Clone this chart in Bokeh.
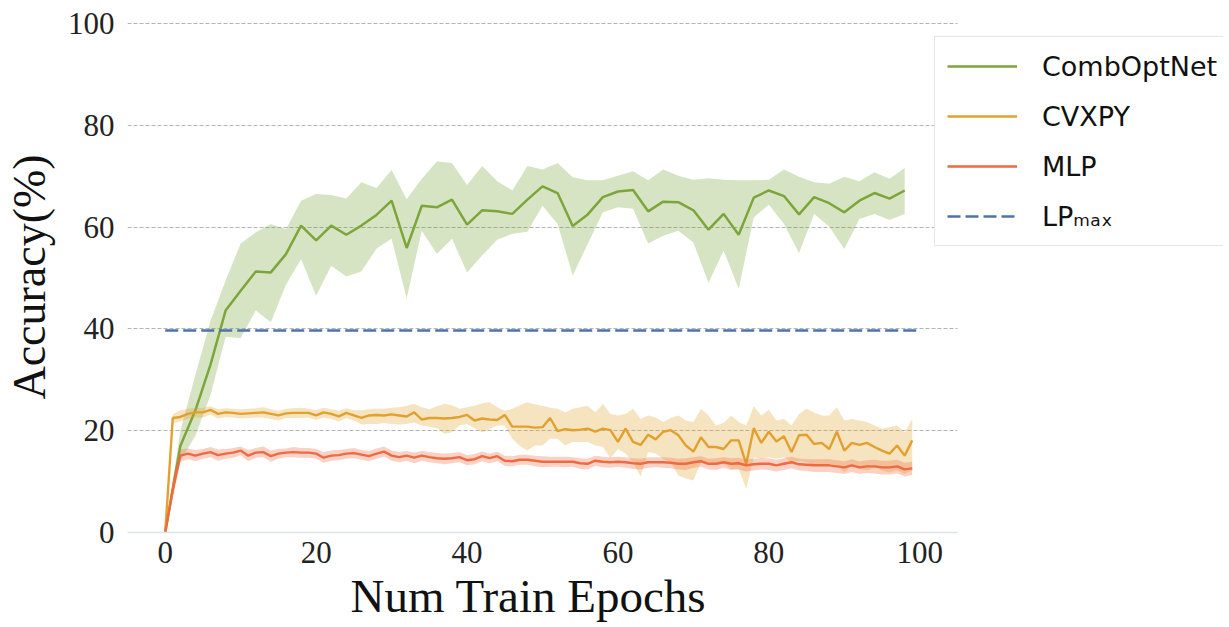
from bokeh.plotting import figure
from bokeh.models import FixedTicker, Legend, LegendItem, ColumnDataSource, Title
from bokeh.embed import file_html
from bokeh.resources import INLINE

# ---------------- data ----------------
comb_epochs = list(range(0, 100, 2))
comb_mean = [0, 17, 24, 33, 43.6, 47.5, 51.3, 51.1, 54.7, 60.3,
             57.4, 60.3, 58.5, 60.3, 62.4, 65.2, 55.9, 64.2, 63.9, 65.4,
             60.5, 63.3, 63.1, 62.6, 65.4, 68.0, 66.7, 60.2, 62.5, 65.9,
             67.0, 67.3, 63.1, 65.0, 64.9, 63.3, 59.5, 62.6, 58.5, 65.8,
             67.2, 66.1, 62.5, 65.9, 64.7, 62.9, 65.2, 66.7, 65.6, 67.2]
comb_upper = [0, 20, 31, 41.6, 49.5, 56.8, 59.0, 60.6, 59.6, 65.2,
              66.5, 66.3, 65.6, 68.8, 67.7, 71.2, 65.5, 69.5, 72.9, 72.6,
              68.3, 72.0, 69.0, 67.2, 72.0, 71.3, 72.6, 69.8, 69.2, 69.2,
              70.1, 71.0, 69.2, 71.3, 70.1, 69.3, 69.6, 69.3, 69.2, 69.2,
              69.3, 71.3, 69.9, 68.8, 68.5, 69.9, 69.0, 70.8, 69.5, 71.6]
comb_lower = [0, 14, 19, 27, 38.4, 38.2, 43.6, 41.3, 48.7, 53.7,
              46.5, 52.4, 50.3, 51.3, 55.8, 57.7, 46.0, 59.3, 54.7, 57.7,
              51.1, 54.4, 57.5, 58.7, 59.1, 64.2, 60.6, 50.5, 56.7, 62.9,
              63.9, 63.6, 56.8, 58.3, 59.3, 57.0, 49.0, 55.4, 47.9, 61.9,
              64.4, 60.6, 54.9, 62.6, 60.1, 55.7, 61.6, 62.6, 61.4, 62.6]

epochs = list(range(100))
cvx_mean = [0, 22.5, 22.7, 23.3, 23.6, 23.6, 24.1, 23.3, 23.6, 23.5,
            23.3, 23.4, 23.5, 23.6, 23.3, 23.0, 23.4, 23.5, 23.5, 23.5,
            23.0, 23.6, 23.3, 22.8, 23.5, 23.0, 22.5, 23.0, 23.1, 23.0,
            23.2, 23.0, 22.8, 23.6, 22.2, 22.5, 22.5, 22.4, 22.5, 22.7,
            23.1, 22.0, 22.4, 22.2, 22.1, 23.1, 20.8, 20.8, 20.8, 20.6,
            20.7, 22.5, 19.9, 20.3, 20.1, 20.2, 20.4, 19.8, 20.4, 20.1,
            17.8, 20.4, 17.8, 17.2, 19.2, 18.3, 19.8, 20.1, 19.1, 17.1,
            15.9, 18.7, 16.8, 16.8, 16.4, 18.1, 18.1, 13.5, 20.5, 17.6,
            19.8, 17.9, 18.9, 15.8, 19.1, 19.2, 17.4, 17.6, 16.4, 19.8,
            16.1, 17.6, 17.2, 17.6, 16.8, 16.1, 15.5, 17.1, 15.1, 18.1]
cvx_upper = [0, 23.2, 24.0, 24.3, 24.5, 24.5, 24.8, 24.2, 24.4, 24.3,
             24.2, 24.3, 24.4, 24.6, 24.2, 23.9, 24.3, 24.4, 24.5, 24.3,
             24.0, 24.5, 24.2, 23.9, 24.4, 24.0, 24.0, 24.2, 24.3, 24.3,
             24.5, 24.6, 24.9, 25.3, 24.6, 24.2, 24.8, 25.3, 25.0, 24.3,
             24.6, 24.9, 25.4, 25.6, 24.6, 23.9, 24.3, 25.0, 25.6, 25.2,
             24.9, 24.5, 24.3, 23.6, 24.3, 24.6, 24.9, 23.6, 25.3, 23.3,
             23.0, 23.3, 24.3, 22.3, 23.0, 22.6, 21.7, 22.5, 23.0, 22.0,
             21.7, 24.3, 23.0, 21.0, 21.5, 23.0, 21.7, 21.0, 24.8, 23.0,
             24.1, 22.0, 22.3, 21.0, 23.3, 24.3, 23.6, 23.0, 23.0, 24.6,
             22.0, 22.3, 22.0, 21.7, 21.0, 20.4, 20.7, 21.0, 19.7, 22.3]
cvx_lower = [0, 21.5, 21.8, 22.3, 22.6, 22.6, 23.2, 22.4, 22.7, 22.6,
             22.4, 22.5, 22.6, 22.6, 22.3, 22.0, 22.5, 22.5, 22.5, 22.6,
             22.1, 22.6, 22.3, 21.8, 22.5, 22.0, 21.2, 21.3, 21.3, 21.5,
             21.3, 21.2, 21.3, 21.6, 21.0, 20.8, 20.5, 19.4, 19.7, 21.0,
             21.3, 20.5, 19.7, 20.3, 21.0, 21.0, 18.4, 17.0, 16.1, 17.1,
             17.1, 18.4, 18.4, 17.1, 17.8, 17.8, 17.8, 17.1, 16.8, 14.6,
             16.4, 15.5, 13.8, 11.0, 15.8, 15.5, 14.5, 13.8, 11.2, 10.6,
             10.2, 13.8, 13.5, 13.2, 13.5, 12.5, 12.5, 8.6, 14.8, 14.5,
             14.8, 14.5, 14.8, 13.8, 14.1, 13.8, 13.2, 13.2, 13.5, 13.2,
             11.8, 13.2, 12.5, 12.2, 12.8, 12.2, 11.8, 12.2, 11.5, 12.2]

mlp_mean = [0, 8.5, 15.1, 15.5, 15.1, 15.5, 15.8, 15.2, 15.5, 15.7,
            16.1, 15.1, 15.7, 15.8, 15.0, 15.5, 15.7, 15.8, 15.7, 15.7,
            15.5, 14.7, 15.1, 15.2, 15.5, 15.6, 15.3, 15.0, 15.5, 15.9,
            15.1, 14.8, 15.1, 14.7, 15.1, 14.8, 14.6, 14.5, 14.6, 14.8,
            14.2, 14.4, 15.0, 14.6, 15.0, 14.1, 14.0, 14.3, 14.3, 14.1,
            13.9, 13.9, 13.9, 13.9, 13.9, 13.6, 13.5, 14.1, 13.9, 13.8,
            13.9, 13.8, 13.6, 13.5, 13.8, 13.8, 13.8, 13.7, 13.5, 13.5,
            13.8, 14.0, 13.5, 13.5, 13.8, 13.5, 13.6, 13.2, 13.4, 13.5,
            13.5, 13.2, 13.5, 13.8, 13.4, 13.3, 13.2, 13.2, 13.2, 13.0,
            12.8, 13.2, 12.8, 13.0, 13.0, 12.8, 12.8, 13.0, 12.4, 12.6]
mlp_upper = [0, 10.5, 16.3, 16.5, 16.2, 16.4, 16.8, 16.3, 16.4, 16.6,
             16.9, 16.2, 16.6, 16.9, 16.1, 16.4, 16.5, 16.8, 16.6, 16.6,
             16.4, 15.8, 16.1, 16.2, 16.4, 16.6, 16.2, 16.0, 16.5, 16.9,
             16.1, 15.8, 16.0, 15.7, 16.0, 15.8, 15.6, 15.5, 15.6, 15.8,
             15.2, 15.4, 15.9, 15.5, 15.9, 15.1, 15.0, 15.3, 15.3, 15.1,
             15.0, 14.9, 14.9, 14.9, 14.8, 14.6, 14.5, 15.1, 14.9, 14.8,
             14.9, 14.8, 14.6, 14.5, 14.8, 14.8, 14.8, 14.7, 14.5, 14.6,
             14.8, 15.0, 14.5, 14.6, 14.8, 14.6, 14.7, 14.3, 14.5, 14.6,
             14.6, 14.3, 14.6, 14.9, 14.5, 14.4, 14.4, 14.4, 14.4, 14.2,
             14.0, 14.4, 14.0, 14.2, 14.3, 14.1, 14.1, 14.3, 13.7, 13.9]
mlp_lower = [0, 6.5, 13.8, 14.4, 14.0, 14.5, 14.8, 14.1, 14.5, 14.7,
             15.2, 14.0, 14.7, 14.8, 13.9, 14.5, 14.8, 14.8, 14.7, 14.7,
             14.5, 13.7, 14.1, 14.2, 14.5, 14.6, 14.3, 14.0, 14.5, 14.9,
             14.1, 13.8, 14.1, 13.6, 14.1, 13.8, 13.6, 13.4, 13.6, 13.8,
             13.2, 13.4, 14.0, 13.6, 14.0, 13.1, 13.0, 13.3, 13.3, 13.0,
             12.8, 12.9, 12.9, 12.8, 12.9, 12.5, 12.4, 13.1, 12.8, 12.7,
             12.9, 12.7, 12.5, 12.4, 12.7, 12.8, 12.7, 12.6, 12.4, 12.3,
             12.7, 12.9, 12.4, 12.3, 12.7, 12.3, 12.4, 12.0, 12.2, 12.4,
             12.3, 12.0, 12.3, 12.6, 12.2, 12.1, 11.9, 11.9, 11.9, 11.7,
             11.5, 11.9, 11.5, 11.7, 11.6, 11.4, 11.4, 11.6, 11.0, 11.3]

lp_epochs = [0, 100]
lp_max = [39.7, 39.7]

series_names = ["CombOptNet", "CVXPY", "MLP", "LP\u2098\u2090\u2093"]
x_ticks = [0, 20, 40, 60, 80, 100]
y_ticks = [0, 20, 40, 60, 80, 100]
x_lo, x_hi = -5, 105          # visible axis extent
y_lo, y_hi = 0, 100.4

# ---------------- styling ----------------
GREEN = "#7ca53a"
ORANGE = "#e2a12f"
RED = "#ee6a40"
BLUE = "#4c72b0"
SERIF = "Liberation Serif"

AXIS_W = 830                      # pixels for the axis extent x_lo..x_hi
FRAME_W = 1096                    # frame also hosts the legend at the right
px_per_unit = AXIS_W / (x_hi - x_lo)
x_end = x_lo + FRAME_W / px_per_unit

p = figure(frame_width=FRAME_W, frame_height=511, x_range=(x_lo, x_end), y_range=(y_lo, y_hi),
           output_backend="svg", toolbar_location=None,
           min_border_left=117, min_border_right=0, min_border_top=21, min_border_bottom=95,
           background_fill_color="white", border_fill_color="white")
p.outline_line_color = None

comb_src = ColumnDataSource(dict(x=comb_epochs, m=comb_mean, lo=comb_lower, hi=comb_upper))
cvx_src = ColumnDataSource(dict(x=epochs, m=cvx_mean, lo=cvx_lower, hi=cvx_upper))
mlp_src = ColumnDataSource(dict(x=epochs, m=mlp_mean, lo=mlp_lower, hi=mlp_upper))

# grid lines limited to the axis extent
grid_ok = True
try:
    p.ygrid.cross_bounds = (x_lo, x_hi)
except Exception:
    grid_ok = False
if grid_ok:
    p.ygrid.ticker = FixedTicker(ticks=y_ticks[1:])
    p.ygrid.grid_line_color = "#b4b4b4"
    p.ygrid.grid_line_dash = "4 2"
    p.ygrid.grid_line_width = 1
else:
    p.ygrid.visible = False
    gy = y_ticks[1:]
    p.segment(x0=[x_lo] * len(gy), x1=[x_hi] * len(gy), y0=gy, y1=gy,
              line_color="#b4b4b4", line_dash="4 2", line_width=1)
p.xgrid.visible = False

p.varea(x="x", y1="lo", y2="hi", source=comb_src, fill_color=GREEN, fill_alpha=0.3)
r_comb = p.line("x", "m", source=comb_src, line_color=GREEN, line_width=2.5)
p.varea(x="x", y1="lo", y2="hi", source=cvx_src, fill_color=ORANGE, fill_alpha=0.3)
r_cvx = p.line("x", "m", source=cvx_src, line_color=ORANGE, line_width=2.4)
p.varea(x="x", y1="lo", y2="hi", source=mlp_src, fill_color=RED, fill_alpha=0.3)
r_mlp = p.line("x", "m", source=mlp_src, line_color=RED, line_width=2.4)
r_lp = p.line(lp_epochs, lp_max, line_color=BLUE, line_width=2.6, line_dash="13 5")

# axes
p.xaxis.ticker = FixedTicker(ticks=x_ticks)
p.yaxis.ticker = FixedTicker(ticks=y_ticks)
p.xaxis.bounds = (x_lo, x_hi)

for ax in (p.xaxis[0], p.yaxis[0]):
    ax.major_tick_line_color = None
    ax.minor_tick_line_color = None
    ax.major_label_text_font = SERIF
    ax.major_label_text_font_size = "31px"
    ax.major_label_text_color = "#222222"
    ax.axis_label_text_font = SERIF
    ax.axis_label_text_font_size = "46px"
    ax.axis_label_text_font_style = "normal"
    ax.axis_label_text_color = "#111111"

p.yaxis.axis_line_color = None
p.xaxis.axis_line_color = "#dde2e8"
p.xaxis.axis_line_width = 1.5
p.yaxis.major_label_standoff = 7
p.xaxis.major_label_standoff = 3
p.yaxis.axis_label = "Accuracy(%)"
p.yaxis.axis_label_standoff = 10

# x axis title, centred under the axis extent (not the legend area)
xlabel = Title(text="Num Train Epochs", align="left", offset=223, standoff=4,
               text_font=SERIF, text_font_size="47px", text_font_style="normal",
               text_color="#111111")
p.add_layout(xlabel, "below")

legend = Legend(items=[LegendItem(label=series_names[0], renderers=[r_comb]),
                       LegendItem(label=series_names[1], renderers=[r_cvx]),
                       LegendItem(label=series_names[2], renderers=[r_mlp]),
                       LegendItem(label=series_names[3], renderers=[r_lp])],
                location=(807, 286))
legend.margin = 0
legend.padding = 12
legend.spacing = 16
legend.glyph_width = 70
legend.glyph_height = 34
legend.label_height = 34
legend.label_width = 200
legend.label_standoff = 25
legend.label_text_font = "DejaVu Sans"
legend.label_text_font_size = "27px"
legend.label_text_color = "#111111"
legend.border_line_color = "#cccccc"
legend.border_line_width = 1
legend.background_fill_color = "white"
legend.background_fill_alpha = 1.0
p.add_layout(legend, "center")

open("out.html", "w").write(file_html(p, INLINE))
